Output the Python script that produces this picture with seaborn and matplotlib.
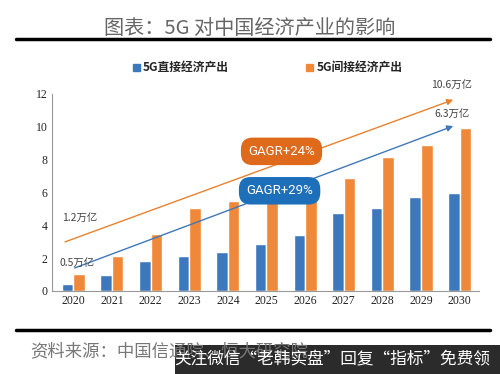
import numpy as np
import pandas as pd
import matplotlib
matplotlib.use("Agg")
import matplotlib.pyplot as plt
from matplotlib.patches import FancyBboxPatch
import seaborn as sns

# data (units: 万亿元)
years = ["2020", "2021", "2022", "2023", "2024", "2025",
         "2026", "2027", "2028", "2029", "2030"]
direct_output = [0.45, 0.95, 1.8, 2.15, 2.35, 2.85, 3.4, 4.75, 5.05, 5.7, 5.95]
indirect_output = [1.05, 2.15, 3.45, 5.05, 5.5, 5.8, 6.4, 6.9, 8.15, 8.9, 9.9]
series_names = ["5G直接经济产出", "5G间接经济产出"]
colors = ["#3d78bd", "#f0883a"]

sns.set_theme(style="white")
plt.rcParams["font.family"] = ["Noto Sans CJK SC", "DejaVu Sans"]

df = pd.DataFrame({
    "year": years * 2,
    "value": direct_output + indirect_output,
    "series": [series_names[0]] * len(years) + [series_names[1]] * len(years),
})

fig = plt.figure(figsize=(5, 3.74), dpi=100)
ax = fig.add_axes([0.104, 0.222, 0.854, 0.527])

sns.barplot(data=df, x="year", y="value", hue="series", palette=colors,
            width=0.6, gap=0, saturation=1, ax=ax, legend=False)

ax.set_xlim(-0.55, 10.5)
ax.set_ylim(0, 12)
ax.set_yticks(range(0, 13, 2))
ax.set_xlabel("")
ax.set_ylabel("")
for s in ["top", "right"]:
    ax.spines[s].set_visible(False)
for s in ["left", "bottom"]:
    ax.spines[s].set_color("#999999")
    ax.spines[s].set_linewidth(0.8)
ax.tick_params(axis="both", labelsize=8.5, colors="#222222", pad=3)
for lab in ax.get_xticklabels() + ax.get_yticklabels():
    lab.set_family("Liberation Serif")
ax.set_xticks(np.arange(-0.5, 10.6, 1), minor=True)
ax.tick_params(axis="x", which="minor", length=3, color="#999999", direction="in")
ax.tick_params(axis="x", which="major", length=0)
ax.tick_params(axis="y", length=3, color="#999999", direction="in")

# growth trend arrows
ax.annotate("", xy=(9.9, 11.7), xytext=(-0.28, 2.93),
            arrowprops=dict(arrowstyle="-|>", color="#e8822f", lw=1, mutation_scale=9))
ax.annotate("", xy=(9.9, 10.1), xytext=(-0.03, 1.34),
            arrowprops=dict(arrowstyle="-|>", color="#3f78b8", lw=1, mutation_scale=9))

ax.text(-0.3, 4.45, "1.2万亿", fontsize=7.5, color="#444444", va="center")
ax.text(-0.35, 1.7, "0.5万亿", fontsize=7.5, color="#444444", va="center")
ax.text(9.25, 12.55, "10.6万亿", fontsize=7.5, color="#444444", va="center", clip_on=False)
ax.text(9.35, 10.75, "6.3万亿", fontsize=7.5, color="#444444", va="center")

for xc, yc, txt, col in [(5.39, 8.5, "GAGR+24%", "#e06a1b"),
                         (5.34, 6.1, "GAGR+29%", "#1e6fba")]:
    ax.text(xc, yc, txt, fontsize=9.5, color="white", ha="center", va="center",
            family=["Roboto", "DejaVu Sans"],
            bbox=dict(boxstyle="round,pad=0.55,rounding_size=0.9", fc=col, ec="none"))

# title, legend, source
fig.text(0.5, 0.925, "图表：5G 对中国经济产业的影响", ha="center", va="center",
         fontsize=14.5, color="#666666")
fig.add_artist(plt.Line2D([0.032, 0.98], [0.897, 0.897], color="black", lw=2.5))
handles = [plt.Rectangle((0, 0), 1, 1, color=c) for c in colors]
fig.legend(handles, series_names, loc="center", bbox_to_anchor=(0.535, 0.818),
           ncol=2, frameon=False, handlelength=0.6, handleheight=0.6,
           columnspacing=6.5, handletextpad=0.3,
           prop=dict(family="Noto Sans CJK SC", weight="bold", size=8.5))
fig.add_artist(plt.Line2D([0.032, 0.98], [0.118, 0.118], color="black", lw=2.5))
fig.text(0.06, 0.06, "资料来源：中国信通院、恒大研究院", ha="left", va="center",
         fontsize=12.5, color="#777777", style="italic")

# watermark band
fig.add_artist(FancyBboxPatch((0.35, 0.0), 0.65, 0.078, boxstyle="square,pad=0",
                              transform=fig.transFigure, fc="#2b2b2b", ec="none"))
fig.text(0.98, 0.037, "关注微信“老韩实盘”回复“指标”免费领", ha="right", va="center",
         fontsize=12, color="white")

fig.savefig("out.png", dpi=100)
